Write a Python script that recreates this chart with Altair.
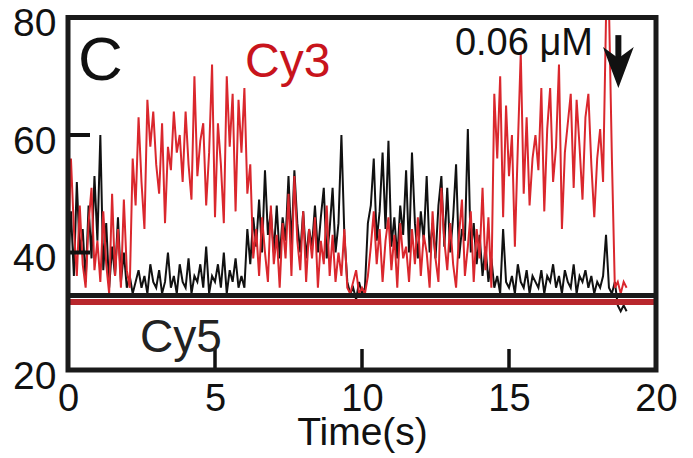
import altair as alt
import pandas as pd

# time axis (s), 0.1 s frames
times = [round(i * 0.1, 1) for i in range(191)]

cy3 = [
    40, 56, 44, 36, 48, 38, 34, 45, 51, 37,
    42, 35, 47, 38, 33, 50, 36, 44, 34, 49,
    37, 34, 56, 48, 63, 52, 44, 66, 58, 64,
    55, 50, 62, 45, 58, 54, 64, 57, 60, 52,
    64, 55, 49, 70, 53, 59, 62, 48, 57, 72,
    46, 62, 55, 45, 70, 58, 67, 47, 66, 57,
    68, 50, 55, 39, 44, 36, 46, 40, 35, 48,
    38, 43, 34, 45, 39, 50, 36, 53, 42, 37,
    47, 35, 44, 39, 46, 34, 42, 38, 48, 36,
    43, 35, 40, 36, 44, 34, 33, 35, 37, 33,
    34, 33, 36, 41, 47, 38, 44, 35, 42, 46,
    37, 43, 34, 45, 39, 41, 35, 44, 38, 46,
    36, 43, 40, 34, 47, 39, 35, 51, 42, 37,
    45, 38, 34, 43, 49, 36, 41, 47, 35, 44,
    39, 51, 37, 46, 34, 67, 56, 70, 46, 65,
    53, 60, 41, 58, 74, 50, 63, 48, 56, 60,
    54, 68, 47, 61, 68, 52, 58, 72, 44, 57,
    62, 67, 51, 66, 58, 49, 63, 67, 55, 46,
    56, 61, 52, 80, 82, 56, 34, 35, 33, 35,
    34,
]

cy5 = [
    38, 47, 36, 52, 40, 44, 35, 48, 39, 53,
    42, 60, 37, 45, 34, 41, 36, 46, 35, 40,
    34, 36, 33, 35, 37, 34, 36, 33, 38, 35,
    34, 37, 33, 35, 40, 34, 36, 33, 38, 35,
    34, 39, 33, 36, 35, 38, 34, 41, 33, 36,
    35, 38, 34, 40, 33, 37, 35, 39, 34, 36,
    34, 44, 38, 46, 41, 49, 40, 54, 43, 47,
    40, 48, 39, 46, 42, 53, 41, 54, 45, 40,
    47, 39, 44, 41, 48, 40, 46, 51, 39, 44,
    51, 40, 45, 60, 43, 35, 33, 34, 32, 35,
    33, 34, 45, 48, 56, 42, 47, 57, 44, 59,
    41, 46, 39, 48, 43, 54, 40, 57, 45, 39,
    47, 42, 53, 40, 45, 39, 48, 53, 41, 51,
    40, 46, 55, 39, 44, 42, 61, 40, 45, 38,
    43, 36, 41, 35, 39, 34, 36, 33, 44, 35,
    34, 36, 33, 38, 35, 34, 37, 33, 36, 35,
    34, 37, 33, 36, 35, 38, 34, 36, 33, 37,
    35, 34, 38, 33, 36, 35, 37, 34, 36, 33,
    35, 34, 36, 43, 34, 33, 35, 31, 30, 31,
    30,
]

x_ticks = [0, 5, 10, 15, 20]
y_ticks = [20, 40, 60, 80]
inner_x_ticks = [5, 10, 15]
inner_y_ticks = [40, 60]

# baseline levels for each channel
baselines = pd.DataFrame({"level": [32.68, 31.57], "color": ["#1a1a1a", "#b8272d"], "w": [5, 6]})

# annotation texts
ann = pd.DataFrame({
    "text": ["C", "Cy3", "0.06 \u03bcM", "Cy5"],
    "x": [0.34, 6.02, 13.16, 2.45],
    "y": [69.4, 69.9, 73.6, 23.1],
    "color": ["#111111", "#c8141c", "#111111", "#222222"],
    "size": [62, 48, 38, 46],
})

arrow_x = [18.72]
arrow_top = [77.0]
arrow_mid = [72.6]
arrow_head = [71.5]

df3 = pd.DataFrame({"t": times, "v": cy3})
df5 = pd.DataFrame({"t": times, "v": cy5})

FONT = "Liberation Sans"
W, H = 588, 352.5

xs = alt.Scale(domain=[0, 20], nice=False, zero=False)
ys = alt.Scale(domain=[20, 80], nice=False, zero=False)

xaxis = alt.Axis(values=x_ticks, ticks=False, domain=False, grid=False, labelFontSize=38,
                 labelFont=FONT, labelColor="#111", labelPadding=10, title="Time(s)",
                 titleFontSize=39, titleFont=FONT, titleFontWeight="normal", titleColor="#111",
                 titlePadding=-5, labelFlush=False)
yaxis = alt.Axis(values=y_ticks, ticks=False, domain=False, grid=False, labelFontSize=39,
                 labelFont=FONT, labelColor="#111", labelPadding=12, title=None, labelFlush=False,
                 labelOffset=6)

black_line = alt.Chart(df5).mark_line(color="#111111", strokeWidth=2, clip=True).encode(
    x=alt.X("t:Q", scale=xs, axis=xaxis),
    y=alt.Y("v:Q", scale=ys, axis=yaxis),
)
red_line = alt.Chart(df3).mark_line(color="#da272d", strokeWidth=2, clip=True).encode(
    x=alt.X("t:Q", scale=xs),
    y=alt.Y("v:Q", scale=ys),
)

base_rules = alt.Chart(baselines).mark_rule().encode(
    y=alt.Y("level:Q", scale=ys),
    x=alt.value(0),
    x2=alt.value(W),
    color=alt.Color("color:N", scale=None),
    strokeWidth=alt.StrokeWidth("w:Q", scale=None),
)

xt = alt.Chart(pd.DataFrame({"t": inner_x_ticks})).mark_rule(color="#111", strokeWidth=3.5).encode(
    x=alt.X("t:Q", scale=xs), y=alt.value(H), y2=alt.value(H - 21)
)
yt = alt.Chart(pd.DataFrame({"v": inner_y_ticks})).mark_rule(color="#111", strokeWidth=4).encode(
    y=alt.Y("v:Q", scale=ys), x=alt.value(0), x2=alt.value(22)
)

frame = alt.Chart(pd.DataFrame({"k": [0]})).mark_rect(
    fill=None, fillOpacity=0, stroke="#1a1a1a", strokeWidth=5
).encode(x=alt.value(0), x2=alt.value(W), y=alt.value(0), y2=alt.value(H))

texts = alt.Chart(ann).mark_text(align="left", baseline="alphabetic", font=FONT).encode(
    x=alt.X("x:Q", scale=xs),
    y=alt.Y("y:Q", scale=ys),
    text="text:N",
    color=alt.Color("color:N", scale=None),
    size=alt.Size("size:Q", scale=None),
)

arrow_df = pd.DataFrame({"x": arrow_x, "top": arrow_top, "mid": arrow_mid, "head": arrow_head})
shaft = alt.Chart(arrow_df).mark_rule(color="#111", strokeWidth=6).encode(
    x=alt.X("x:Q", scale=xs), y=alt.Y("top:Q", scale=ys), y2="mid:Q"
)
head = alt.Chart(arrow_df).mark_point(
    shape="M -0.75 -1 L 0 1 L 0.75 -1 L 0 -0.45 Z", filled=True, color="#111", size=1681, opacity=1,
    strokeWidth=0
).encode(x=alt.X("x:Q", scale=xs), y=alt.Y("head:Q", scale=ys))

chart = alt.layer(black_line, red_line, base_rules, xt, yt, frame, texts, shaft, head).properties(
    width=W, height=H,
    background="white",
    autosize=alt.AutoSizeParams(type="none"),
    padding={"left": 60, "top": 9.5, "right": 29, "bottom": 88},
).configure_view(stroke=None)

chart.save("out.html", embed_options={"renderer": "svg", "actions": False})
